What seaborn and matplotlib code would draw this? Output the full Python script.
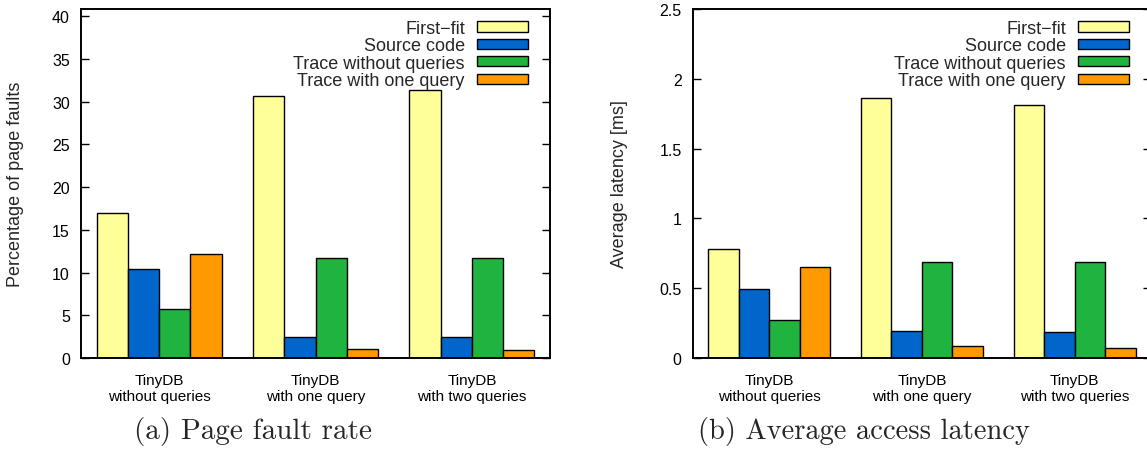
import matplotlib
matplotlib.use("Agg")
import matplotlib.pyplot as plt
from matplotlib.ticker import FuncFormatter
import seaborn as sns
import pandas as pd

# ---- data ----
workloads = ["TinyDB\nwithout queries", "TinyDB\nwith one query", "TinyDB\nwith two queries"]
methods = ["First\u2212fit", "Source code", "Trace without queries", "Trace with one query"]

fault_first_fit = [17.0, 30.7, 31.4]
fault_source_code = [10.4, 2.5, 2.4]
fault_trace_noq = [5.7, 11.7, 11.7]
fault_trace_oneq = [12.2, 1.1, 0.95]

lat_first_fit = [0.78, 1.86, 1.81]
lat_source_code = [0.495, 0.19, 0.185]
lat_trace_noq = [0.275, 0.69, 0.69]
lat_trace_oneq = [0.65, 0.085, 0.075]

colors = ["#FFFF99", "#0066CC", "#20B340", "#FF9900"]

captions = ["(a) Page fault rate", "(b) Average access latency"]
ylabels = ["Percentage of page faults", "Average latency [ms]"]


def long_df(series):
    rows = []
    for m, vals in zip(methods, series):
        for w, v in zip(workloads, vals):
            rows.append({"workload": w, "method": m, "value": v})
    return pd.DataFrame(rows)


df_fault = long_df([fault_first_fit, fault_source_code, fault_trace_noq, fault_trace_oneq])
df_lat = long_df([lat_first_fit, lat_source_code, lat_trace_noq, lat_trace_oneq])

sns.set_theme(style="white")
plt.rcParams["font.family"] = ["Liberation Sans", "DejaVu Sans"]

W, H = 1147, 452
fig = plt.figure(figsize=(W / 100, H / 100), dpi=100)

ax1 = fig.add_axes([81 / W, (H - 359) / H, (550 - 81) / W, 349 / H])
ax2 = fig.add_axes([692.7 / W, (H - 359) / H, (1151 - 692.7) / W, 349 / H])

configs = [
    (ax1, df_fault, (0, 40.85), [0, 5, 10, 15, 20, 25, 30, 35, 40]),
    (ax2, df_lat, (0, 2.5), [0, 0.5, 1, 1.5, 2, 2.5]),
]

for ax, df, ylim, yticks in configs:
    sns.barplot(data=df, x="workload", y="value", hue="method", hue_order=methods,
                order=workloads, palette=colors, ax=ax, width=0.8, gap=0,
                edgecolor="black", linewidth=1.0, saturation=1, legend=True)
    handles, labels = ax.get_legend_handles_labels()
    ax.get_legend().remove()
    axw = ax.get_position().width * W
    axh = ax.get_position().height * H
    ax.legend(handles, labels, loc="upper right",
              bbox_to_anchor=(1 - 22 / axw, 1 - 11 / axh),
              frameon=False, markerfirst=False, fontsize=13,
              handlelength=2.85, handleheight=0.5, handletextpad=0.65,
              labelspacing=0.02, borderpad=0, borderaxespad=0)
    ax.set_ylim(*ylim)
    ax.set_xlim(-0.5, 2.5)
    ax.set_yticks(yticks)
    ax.yaxis.set_major_formatter(FuncFormatter(lambda v, p: f"{v:g}"))
    ax.set_xlabel("")
    ax.set_ylabel("")
    ax.tick_params(axis="y", direction="in", length=6, width=1, right=True,
                   left=True, labelsize=11.5, pad=8, colors="black")
    ax.tick_params(axis="x", length=0, labelsize=11, pad=11, colors="black")
    for lbl in ax.get_xticklabels():
        lbl.set_linespacing(1.12)
    for s in ax.spines.values():
        s.set_visible(True)
        s.set_color("black")
        s.set_linewidth(1.4)
    ax.grid(False)

ax1.set_ylabel(ylabels[0], fontsize=13)
ax2.set_ylabel(ylabels[1], fontsize=13)
ax1.yaxis.set_label_coords(-0.121, 0.5)
ax2.yaxis.set_label_coords(-0.141, 0.5)

fig.text(253 / W, 1 - 432 / H, captions[0], family="cmr10", fontsize=21,
         ha="center", va="center")
fig.text(864 / W, 1 - 432 / H, captions[1], family="cmr10", fontsize=20.5,
         ha="center", va="center")

fig.savefig("out.png", dpi=100)
